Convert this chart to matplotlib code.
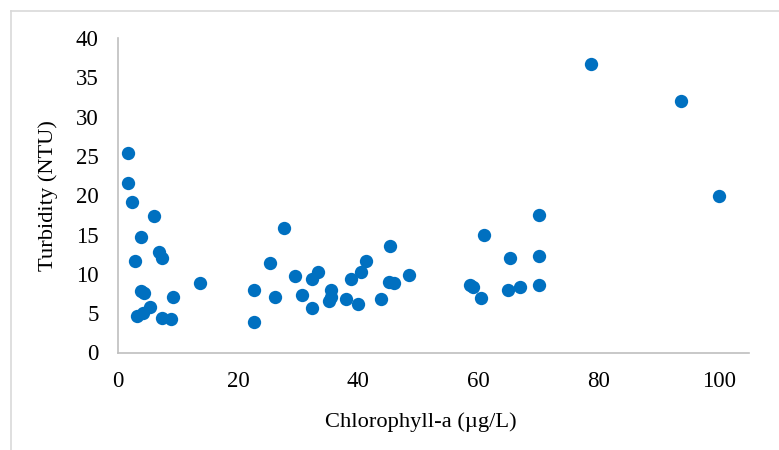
import matplotlib
matplotlib.use("Agg")
from matplotlib import pyplot as plt
from matplotlib.lines import Line2D

# chlorophyll-a (ug/L) and turbidity (NTU)
chla = [1.7, 1.7, 2.3, 6.0, 3.8, 6.8, 7.4, 2.8, 13.7, 3.9, 4.4, 9.2, 5.4,
        3.1, 4.2, 7.3, 8.8,
        27.7, 25.3, 29.4, 32.2, 33.2, 22.6, 26.2, 30.6, 32.2, 35.4, 35.4,
        35.1, 22.6, 38.8, 40.5, 41.3, 38.0, 40.0, 45.3, 43.8, 45.1, 45.9,
        48.4,
        100.0, 70.0, 60.9, 65.3, 70.0, 58.6, 59.0, 60.4, 64.9, 66.9, 70.0,
        78.7, 93.7]
turb = [25.4, 21.6, 19.1, 17.3, 14.7, 12.8, 12.0, 11.6, 8.9, 7.8, 7.6, 7.1, 5.8,
        4.7, 5.0, 4.4, 4.2,
        15.8, 11.4, 9.7, 9.4, 10.2, 7.9, 7.1, 7.3, 5.7, 7.9, 7.0,
        6.5, 3.9, 9.3, 10.2, 11.6, 6.8, 6.2, 13.5, 6.8, 9.0, 8.9,
        9.9,
        19.9, 17.5, 14.9, 12.0, 12.3, 8.6, 8.3, 6.9, 7.9, 8.3, 8.6,
        36.7, 32.0]

xticks = [0, 20, 40, 60, 80, 100]
yticks = [0, 5, 10, 15, 20, 25, 30, 35, 40]

plt.rcParams['font.family'] = ['Liberation Serif', 'DejaVu Serif']

fig = plt.figure(figsize=(7.79, 4.5), dpi=100)
ax = fig.add_axes([118/779, 1 - 352.5/450, (749 - 118)/779, (352.5 - 38)/450])

ax.scatter(chla, turb, s=92, color='#0070C0', zorder=3, linewidths=0)

ax.set_xlim(0, 105)
ax.set_ylim(0, 40)
ax.set_xticks(xticks)
ax.set_yticks(yticks)
ax.tick_params(length=0, labelsize=16.5, colors='black')
ax.tick_params(axis='x', pad=13)
ax.tick_params(axis='y', pad=14)

for s in ['top', 'right']:
    ax.spines[s].set_visible(False)
for s in ['left', 'bottom']:
    ax.spines[s].set_color('#BFBFBF')
    ax.spines[s].set_linewidth(1.2)

ax.set_xlabel("Chlorophyll-a (\u00b5g/L)", fontsize=16.2)
ax.xaxis.set_label_coords(0.48, -60 / 314.5)
ax.set_ylabel("Turbidity (NTU)", fontsize=16.2, labelpad=13)

# chart area border (only top and left visible in the crop)
fig.add_artist(Line2D([11/779, 11/779], [0, 1 - 11/450], transform=fig.transFigure,
                      color='#D9D9D9', lw=1.2))
fig.add_artist(Line2D([11/779, 1], [1 - 11/450, 1 - 11/450], transform=fig.transFigure,
                      color='#D9D9D9', lw=1.2))

fig.savefig("out.png", dpi=100)
